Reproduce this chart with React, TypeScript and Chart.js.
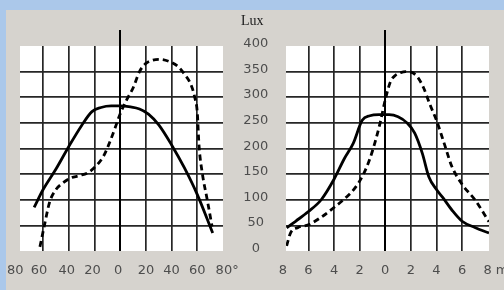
import React, { useEffect, useRef } from 'react';
import { Chart, registerables } from 'chart.js';

Chart.register(...registerables);

// ---------- data ----------
const luxTicks = [0, 50, 100, 150, 200, 250, 300, 350, 400];
const luxTitle = 'Lux';

const angleTicks = [-80, -60, -40, -20, 0, 20, 40, 60, 80];
const angleTickLabels = ['80', '60', '40', '20', '0', '20', '40', '60', '80°'];

const distTicks = [-8, -6, -4, -2, 0, 2, 4, 6, 8];
const distTickLabels = ['8', '6', '4', '2', '0', '2', '4', '6', '8 m'];

const angleSolidX = [-67, -60, -50, -40, -30, -22, -15, -7, 0, 8, 15, 22, 30, 40, 50, 60, 72];
const angleSolidLux = [85, 120, 160, 204, 245, 272, 280, 283, 283, 281, 277, 267, 246, 207, 162, 110, 35];

const angleDashedX = [-62.5, -59, -55, -50, -45, -39, -32, -25, -18, -13, -9, -4, 0, 5, 10, 15, 20, 25, 31, 38, 45, 50, 55, 58, 60, 61.3, 64, 67.5, 71.5];
const angleDashedLux = [8, 50, 95, 120, 132, 142, 147, 153, 168, 185, 207, 240, 268, 295, 318, 350, 366, 372, 374, 370, 360, 345, 325, 300, 270, 207, 150, 103, 48];

const distSolidX = [-7.7, -7, -6, -5, -4, -3.2, -2.5, -1.8, -1.2, -0.5, 0.3, 1, 1.7, 2.3, 2.9, 3.4, 4, 4.5, 5.2, 6, 7, 8.1];
const distSolidLux = [45, 58, 77, 100, 140, 180, 210, 255, 264, 266, 266, 262, 250, 230, 190, 145, 120, 104, 80, 58, 46, 35];

const distDashedX = [-7.7, -7.4, -6.8, -6, -5, -4, -3, -2.3, -1.7, -1.2, -0.8, -0.4, 0, 0.4, 0.8, 1.2, 1.6, 2, 2.5, 3, 3.5, 4, 4.6, 5.2, 6, 7, 8.1];
const distDashedLux = [10, 35, 46, 51, 66, 85, 106, 125, 150, 180, 212, 250, 295, 330, 343, 348, 350, 349, 340, 318, 285, 255, 210, 165, 130, 100, 57];

// ---------- styling ----------
const W = 504;
const H = 290;
const PLOT_TOP = 46;
const X_AXIS_H = 39;
const GRID_COLOR = '#262626';
const TICK_COLOR = '#4d4d4d';
const TICK_FONT = { family: '"DejaVu Sans", sans-serif', size: 13 };
const TITLE_FONT = { family: '"Liberation Serif", serif', size: 14 };

const zip = (xs: number[], ys: number[]) => xs.map((x, i) => ({ x, y: ys[i] }));

// white plot area, painted behind everything already drawn
const plotBg = {
  id: 'plotBg',
  afterDraw(chart: any) {
    const ctx = chart.ctx;
    const a = chart.chartArea;
    ctx.save();
    ctx.globalCompositeOperation = 'destination-over';
    ctx.fillStyle = '#ffffff';
    ctx.fillRect(a.left, a.top, a.right - a.left, a.bottom - a.top);
    ctx.restore();
  },
};

const zeroAxis = {
  id: 'zeroAxis',
  beforeDatasetsDraw(chart: any) {
    const { ctx, chartArea: a, scales } = chart;
    const x = Math.round(scales.x.getPixelForValue(0));
    ctx.save();
    ctx.strokeStyle = '#000';
    ctx.lineWidth = 2;
    ctx.beginPath();
    ctx.moveTo(x, a.top - 16);
    ctx.lineTo(x, a.bottom);
    ctx.stroke();
    ctx.restore();
  },
};

const lineDs = (data: any[], dashed: boolean) => ({
  data,
  borderColor: '#000',
  borderWidth: 2.8,
  borderDash: dashed ? [6, 4] : [],
  pointRadius: 0,
  cubicInterpolationMode: 'monotone',
  fill: false,
});

function xScale(min: number, max: number, ticks: number[], labels: string[], fmt: (l: string, v: number, i: number) => string) {
  return {
    type: 'linear',
    position: 'bottom',
    min,
    max,
    afterBuildTicks: (s: any) => {
      s.ticks = ticks.map((v) => ({ value: v }));
    },
    afterFit: (s: any) => {
      s.height = X_AXIS_H;
      s.paddingLeft = 0;
      s.paddingRight = 0;
    },
    border: { display: false },
    grid: {
      drawTicks: false,
      lineWidth: 1.7,
      color: (c: any) => {
        const v = c.tick && c.tick.value;
        return v === ticks[0] || v === ticks[ticks.length - 1] || v === 0 ? 'rgba(0,0,0,0)' : GRID_COLOR;
      },
    },
    ticks: {
      autoSkip: false,
      maxRotation: 0,
      minRotation: 0,
      padding: 12,
      color: TICK_COLOR,
      font: TICK_FONT,
      callback: (_v: any, i: number) => fmt(labels[i], ticks[i], i),
    },
  };
}

function yGridScale() {
  return {
    type: 'linear',
    position: 'left',
    min: luxTicks[0],
    max: luxTicks[luxTicks.length - 1],
    afterBuildTicks: (s: any) => {
      s.ticks = luxTicks.map((v) => ({ value: v }));
    },
    afterFit: (s: any) => {
      s.width = 0;
      s.paddingTop = 0;
      s.paddingBottom = 0;
    },
    border: { display: false },
    grid: {
      drawTicks: false,
      lineWidth: 1.7,
      color: (c: any) => {
        const v = c.tick && c.tick.value;
        return v === luxTicks[0] || v === luxTicks[luxTicks.length - 1] ? 'rgba(0,0,0,0)' : GRID_COLOR;
      },
    },
    ticks: { display: false },
  };
}

const baseOptions = (padding: any, scales: any) => ({
  animation: false,
  responsive: false,
  events: [],
  layout: { padding },
  plugins: { legend: { display: false }, tooltip: { enabled: false }, title: { display: false } },
  scales,
});

export default function App() {
  const leftRef = useRef<HTMLCanvasElement>(null);
  const rightRef = useRef<HTMLCanvasElement>(null);

  useEffect(() => {
    const angleFmt = (l: string, v: number, i: number) => {
      if (i === angleTicks.length - 1) return '  ' + l;
      if (v === -60) return l + '  ';
      if (v <= 0) return l + ' ';
      return l;
    };
    const distFmt = (l: string, _v: number, i: number) => (i === distTicks.length - 1 ? '    ' + l : l);

    const titleValue = 444;
    const labelTicks = [...luxTicks, titleValue];

    const left = new Chart(leftRef.current as HTMLCanvasElement, {
      type: 'line',
      data: {
        datasets: [
          lineDs(zip(angleSolidX, angleSolidLux), false),
          lineDs(zip(angleDashedX, angleDashedLux), true),
        ] as any,
      },
      options: baseOptions(
        { left: 20, right: 201, top: PLOT_TOP, bottom: 0 },
        {
          x: xScale(-78, 80, angleTicks, angleTickLabels, angleFmt),
          y: yGridScale(),
          yLabels: {
            type: 'linear',
            position: 'right',
            min: -4.5,
            max: 395.5,
            afterBuildTicks: (s: any) => {
              s.ticks = labelTicks.map((v) => ({ value: v }));
            },
            afterFit: (s: any) => {
              s.width = 80;
              s.paddingTop = 0;
              s.paddingBottom = 0;
            },
            border: { display: false },
            grid: { display: false, drawTicks: false },
            ticks: {
              autoSkip: false,
              crossAlign: 'center',
              padding: 18,
              font: (c: any) => (c.index === luxTicks.length ? TITLE_FONT : TICK_FONT),
              color: (c: any) => (c.index === luxTicks.length ? '#1a1a1a' : TICK_COLOR),
              callback: (_v: any, i: number) => (i === luxTicks.length ? luxTitle + '  ' : String(luxTicks[i])),
            },
          },
        }
      ) as any,
      plugins: [plotBg, zeroAxis],
    });

    const right = new Chart(rightRef.current as HTMLCanvasElement, {
      type: 'line',
      data: {
        datasets: [
          lineDs(zip(distSolidX, distSolidLux), false),
          lineDs(zip(distDashedX, distDashedLux), true),
        ] as any,
      },
      options: baseOptions(
        { left: 286, right: 15, top: PLOT_TOP, bottom: 0 },
        {
          x: xScale(-7.75, 8.1, distTicks, distTickLabels, distFmt),
          y: yGridScale(),
        }
      ) as any,
      plugins: [plotBg, zeroAxis],
    });

    return () => {
      left.destroy();
      right.destroy();
    };
  }, []);

  const canvasStyle: React.CSSProperties = { position: 'absolute', left: 0, top: 0, width: W, height: H };

  return (
    <div style={{ position: 'absolute', left: 0, top: 0, width: W, height: H, overflow: 'hidden', background: '#abc8ea' }}>
      <div style={{ position: 'absolute', left: 6, top: 10, width: W - 6, height: H - 10, background: '#d6d3ce' }} />
      <canvas ref={leftRef} width={W} height={H} style={canvasStyle} />
      <canvas ref={rightRef} width={W} height={H} style={canvasStyle} />
    </div>
  );
}
